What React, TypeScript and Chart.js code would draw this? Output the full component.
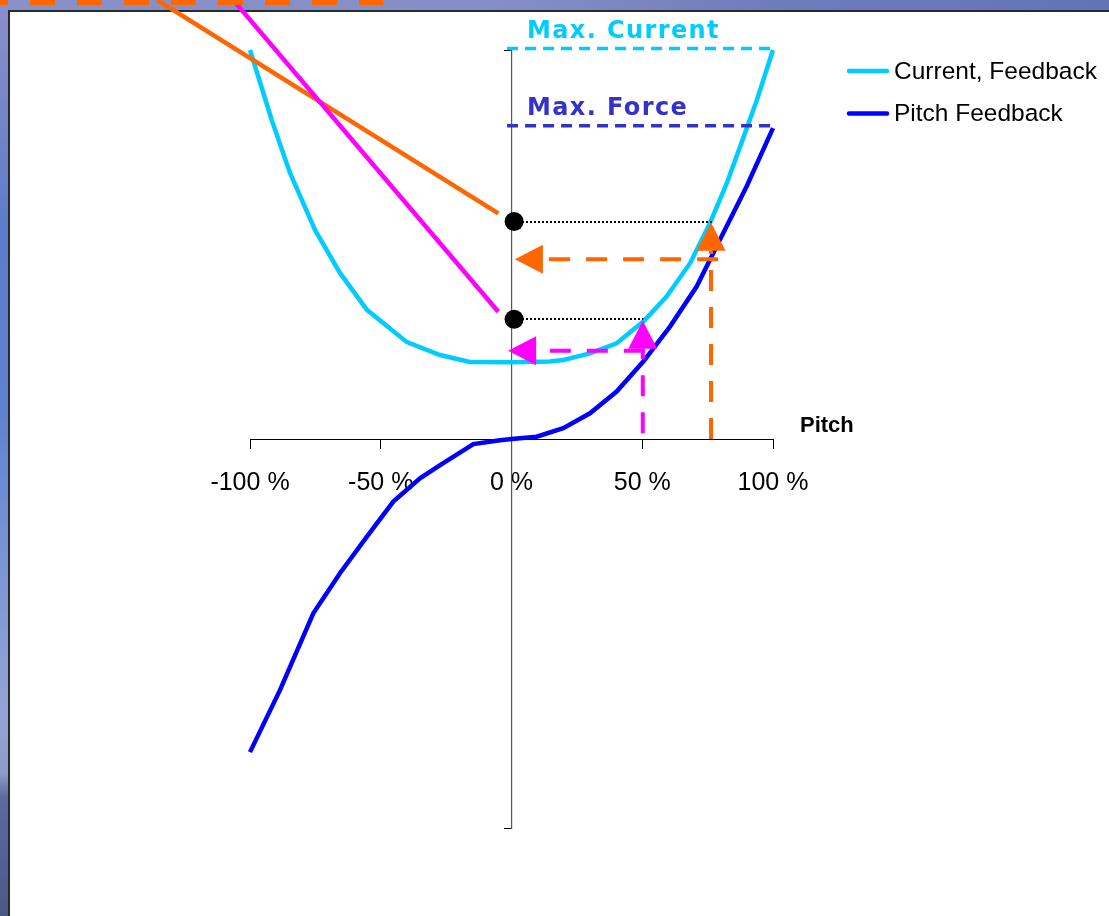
import React, { useEffect, useRef } from "react";
import { Chart, registerables } from "chart.js";

Chart.register(...registerables);

// Motor current vs. pitch position (symmetric bowl)
const currentPitch = [-100, -91.7, -84.7, -75.1, -65.6, -55.3, -40.0, -27.3, -15.9, 0, 14.7, 19.8, 30.0, 40.2, 50.4, 59.3, 68.3, 75.9, 82.3, 87.4, 93.8, 100];
const currentValue = [100, 82.0, 68.4, 53.7, 42.7, 33.2, 24.9, 21.6, 19.8, 19.7, 19.9, 20.3, 22.0, 24.6, 30.2, 36.6, 45.2, 55.5, 65.7, 75.1, 87.1, 100];

// Pitch feedback force vs. pitch position
const feedbackPitch = [-100, -88.5, -75.8, -65.6, -55.3, -45.2, -35.0, -27.3, -14.6, -4.4, 0, 9.6, 19.8, 30.0, 40.2, 50.4, 60.6, 70.8, 79.7, 89.9, 100];
const feedbackValue = [-80.5, -64.5, -44.8, -34.5, -25.1, -16.1, -10.1, -6.7, -1.3, -0.3, 0, 0.6, 2.8, 6.6, 12.2, 19.9, 28.9, 39.2, 51.2, 64.9, 79.9];

const seriesNames = ["Current, Feedback", "Pitch Feedback"];
const seriesColors = ["#00CCFF", "#0000FF"];

const tickValues = [-100, -50, 0, 50, 100];
const tickLabels = ["-100 %", "-50 %", "0 %", "50 %", "100 %"];
const axisTitle = "Pitch";

// Limit lines: label, level, colour
const limitNames = ["Max. Current", "Max. Force"];
const limitLevels = [100.4, 80.5];
const limitColors = ["#00CCFF", "#3333CC"];
const limitStart = -1.7;
const limitEnd = 100;
const limitLabelX = 5.9;
const limitLabelY = [103.1, 83.3];

// Operating points
const opPitch = [76.6, 50.4];
const opCurrent = [55.9, 30.8];
const opDotX = 1;

// Construction arrows: pitch up to the curve, force back to the axis
const arrowColors = ["#FF6600", "#FF00FF"];
const arrowPitch = [76.3, 50.2];
const arrowPitchFrom = [0, 1.5];
const arrowPitchTip = [55.6, 30.4];
const arrowForce = [46.2, 22.7];
const arrowForceFrom = [79.0, 51.0];
const arrowForceTip = [1.3, -1.3];

// Pointer lines coming in from the upper left
const pointerFromX = [-135.6, -106.5];
const pointerFromY = [112.9, 112.9];
const pointerToX = [-5.05, -5.05];
const pointerToY = [58.0, 32.7];

// Dashed orange callout along the top edge
const calloutY = 112.2;
const calloutFrom = -195.6;
const calloutTo = -49.1;

const slidePlugin = {
  id: "slideBackground",
  beforeDraw(chart: any) {
    const { ctx, width, height } = chart;
    ctx.save();
    const side = ctx.createLinearGradient(0, 0, 0, height);
    side.addColorStop(0, "#8a8fc8");
    side.addColorStop(0.1, "#7888c8");
    side.addColorStop(0.25, "#5c7bcc");
    side.addColorStop(0.45, "#5f82d0");
    side.addColorStop(0.62, "#7a96d6");
    side.addColorStop(0.78, "#93a4d4");
    side.addColorStop(0.845, "#8c9cc8");
    side.addColorStop(0.87, "#5a6c9c");
    side.addColorStop(1, "#4a5888");
    ctx.fillStyle = side;
    ctx.fillRect(0, 0, width, height);
    const top = ctx.createLinearGradient(0, 0, width, 0);
    top.addColorStop(0, "#8a90c8");
    top.addColorStop(0.45, "#858ec6");
    top.addColorStop(0.7, "#6f7cbc");
    top.addColorStop(1, "#6274b6");
    ctx.fillStyle = top;
    ctx.fillRect(0, 0, width, 10);
    ctx.fillStyle = "#ffffff";
    ctx.fillRect(9, 10, width - 9, height - 10);
    ctx.strokeStyle = "#2a2a2a";
    ctx.lineWidth = 2;
    ctx.beginPath();
    ctx.moveTo(9, height);
    ctx.lineTo(9, 11);
    ctx.lineTo(width, 11);
    ctx.stroke();
    ctx.restore();
  },
};

function dashedArrow(ctx: any, x1: number, y1: number, x2: number, y2: number, color: string) {
  const len = Math.hypot(x2 - x1, y2 - y1);
  const ux = (x2 - x1) / len;
  const uy = (y2 - y1) / len;
  const head = 28;
  const half = 14.5;
  const bx = x2 - ux * head;
  const by = y2 - uy * head;
  ctx.save();
  ctx.strokeStyle = color;
  ctx.fillStyle = color;
  ctx.lineWidth = 4;
  ctx.setLineDash([21, 16]);
  ctx.beginPath();
  ctx.moveTo(x1, y1);
  ctx.lineTo(bx, by);
  ctx.stroke();
  ctx.setLineDash([]);
  ctx.beginPath();
  ctx.moveTo(x2, y2);
  ctx.lineTo(bx - uy * half, by + ux * half);
  ctx.lineTo(bx + uy * half, by - ux * half);
  ctx.closePath();
  ctx.fill();
  ctx.restore();
}

const annotationPlugin = {
  id: "pitchAnnotations",
  afterDatasetsDraw(chart: any) {
    const { ctx } = chart;
    const sx = chart.scales.x;
    const sy = chart.scales.y;
    const px = (v: number) => sx.getPixelForValue(v);
    const py = (v: number) => sy.getPixelForValue(v);
    ctx.save();

    // limit lines and their labels
    limitLevels.forEach((lvl, i) => {
      ctx.strokeStyle = limitColors[i];
      ctx.lineWidth = 3.5;
      ctx.setLineDash([11, 7]);
      ctx.beginPath();
      ctx.moveTo(px(limitStart), py(lvl));
      ctx.lineTo(px(limitEnd), py(lvl));
      ctx.stroke();
      ctx.setLineDash([]);
      ctx.fillStyle = limitColors[i];
      ctx.font = "bold 24px 'DejaVu Sans'";
      (ctx as any).letterSpacing = "1.4px";
      ctx.textAlign = "left";
      ctx.textBaseline = "alphabetic";
      ctx.fillText(limitNames[i], px(limitLabelX), py(limitLabelY[i]));
      (ctx as any).letterSpacing = "0px";
    });

    // dotted read-off lines and dots on the axis
    opPitch.forEach((p, i) => {
      const yy = Math.round(py(opCurrent[i]));
      ctx.strokeStyle = "#000000";
      ctx.lineWidth = 2;
      ctx.setLineDash([2, 2]);
      ctx.beginPath();
      ctx.moveTo(Math.round(px(opDotX)), yy);
      ctx.lineTo(px(p), yy);
      ctx.stroke();
      ctx.setLineDash([]);
      ctx.fillStyle = "#000000";
      ctx.beginPath();
      ctx.arc(px(opDotX), py(opCurrent[i]), 9.5, 0, Math.PI * 2);
      ctx.fill();
    });

    // construction arrows
    arrowColors.forEach((c, i) => {
      dashedArrow(ctx, px(arrowPitch[i]), py(arrowPitchFrom[i]), px(arrowPitch[i]), py(arrowPitchTip[i]), c);
      dashedArrow(ctx, px(arrowForceFrom[i]), py(arrowForce[i]), px(arrowForceTip[i]), py(arrowForce[i]), c);
    });

    // pointer lines
    arrowColors.forEach((c, i) => {
      ctx.strokeStyle = c;
      ctx.lineWidth = 4.5;
      ctx.beginPath();
      ctx.moveTo(px(pointerFromX[i]), py(pointerFromY[i]));
      ctx.lineTo(px(pointerToX[i]), py(pointerToY[i]));
      ctx.stroke();
    });

    // top callout edge
    ctx.strokeStyle = arrowColors[0];
    ctx.lineWidth = 5;
    ctx.setLineDash([25, 22]);
    ctx.lineDashOffset = 17;
    ctx.beginPath();
    ctx.moveTo(px(calloutFrom), py(calloutY));
    ctx.lineTo(px(calloutTo), py(calloutY));
    ctx.stroke();
    ctx.setLineDash([]);
    ctx.lineDashOffset = 0;

    // axis title
    ctx.fillStyle = "#000000";
    ctx.font = "bold 22px 'Liberation Sans', Arial";
    ctx.textAlign = "left";
    ctx.textBaseline = "middle";
    ctx.fillText(axisTitle, sx.right + 27, py(3.3));
    ctx.restore();
  },
};

const legendPlugin = {
  id: "sideLegend",
  afterDraw(chart: any) {
    const { ctx } = chart;
    ctx.save();
    chart.data.datasets.forEach((ds: any, i: number) => {
      const y = 71 + i * 42.5;
      ctx.strokeStyle = ds.borderColor;
      ctx.lineWidth = 4.5;
      ctx.lineCap = "round";
      ctx.beginPath();
      ctx.moveTo(849, y);
      ctx.lineTo(887, y);
      ctx.stroke();
      ctx.fillStyle = "#000000";
      ctx.font = "24.5px 'Liberation Sans', Arial";
      ctx.textAlign = "left";
      ctx.textBaseline = "middle";
      ctx.fillText(ds.label, 894, y + 1);
    });
    ctx.restore();
  },
};

export default function App() {
  const canvasRef = useRef<HTMLCanvasElement | null>(null);

  useEffect(() => {
    const canvas = canvasRef.current;
    if (!canvas) return;
    const chart = new Chart(canvas, {
      type: "scatter",
      data: {
        datasets: [
          {
            label: seriesNames[0],
            data: currentPitch.map((x, i) => ({ x, y: currentValue[i] })),
            showLine: true,
            borderColor: seriesColors[0],
            backgroundColor: seriesColors[0],
            borderWidth: 4.5,
            pointRadius: 0,
            tension: 0,
            clip: false,
          } as any,
          {
            label: seriesNames[1],
            data: feedbackPitch.map((x, i) => ({ x, y: feedbackValue[i] })),
            showLine: true,
            borderColor: seriesColors[1],
            backgroundColor: seriesColors[1],
            borderWidth: 4.5,
            pointRadius: 0,
            tension: 0,
            clip: false,
          } as any,
        ],
      },
      options: {
        animation: false,
        responsive: true,
        maintainAspectRatio: false,
        layout: { padding: { left: 250, right: 336, top: 50, bottom: 88 } },
        plugins: { legend: { display: false }, tooltip: { enabled: false } },
        scales: {
          x: {
            type: "linear",
            min: -100,
            max: 100,
            position: { y: 0 } as any,
            grid: { drawOnChartArea: false, drawTicks: true, tickLength: 9, color: "#000000", lineWidth: 1 },
            border: { color: "#000000", width: 1 },
            afterBuildTicks: (s: any) => {
              s.ticks = tickValues.map((v) => ({ value: v }));
            },
            ticks: {
              callback: (_v: any, i: number) => tickLabels[i],
              font: { family: "'Liberation Sans', Arial", size: 25 },
              color: "#000000",
              padding: 20,
              maxRotation: 0,
              autoSkip: false,
            },
          },
          y: {
            type: "linear",
            min: -100,
            max: 100,
            position: { x: 0 } as any,
            grid: { drawOnChartArea: false, drawTicks: true, tickLength: 7, color: "#000000" },
            border: { color: "#555555", width: 1.2 },
            afterBuildTicks: (s: any) => {
              s.ticks = [{ value: -100 }, { value: 100 }];
            },
            ticks: { display: false },
          },
        },
      },
      plugins: [slidePlugin, annotationPlugin, legendPlugin],
    });
    return () => chart.destroy();
  }, []);

  return (
    <div style={{ position: "fixed", left: 0, top: 0, width: "100%", height: "100%" }}>
      <canvas ref={canvasRef} />
    </div>
  );
}
